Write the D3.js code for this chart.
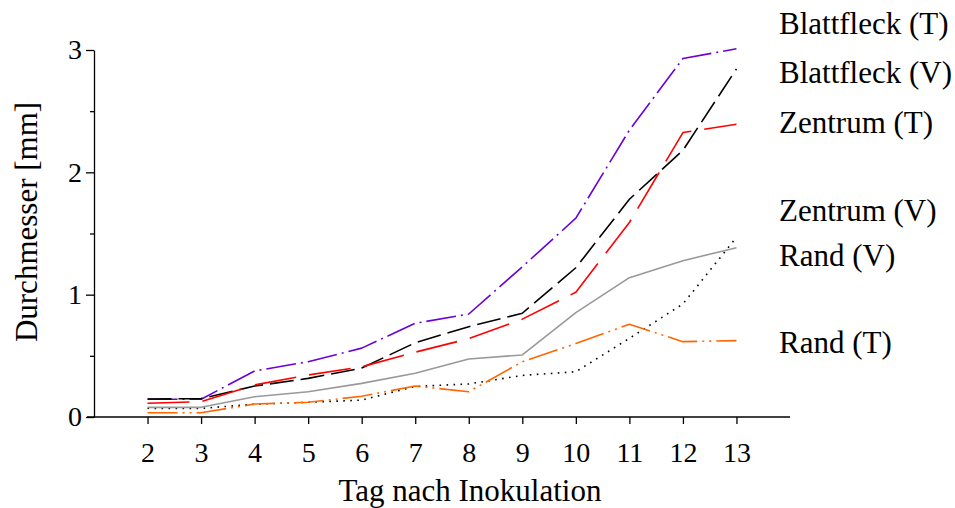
<!DOCTYPE html>
<html>
<head>
<meta charset="utf-8">
<script src="https://cdn.jsdelivr.net/npm/d3@7"></script>
<style>
  html, body { margin: 0; padding: 0; background: #fff; }
  svg { display: block; }
  text { font-family: "Liberation Serif", "Times New Roman", serif; fill: #000; }
</style>
</head>
<body>
<svg id="chart" width="955" height="508"></svg>
<script>
// Lesion diameter (mm) per day after inoculation
const days = [2, 3, 4, 5, 6, 7, 8, 9, 10, 11, 12, 13];
const blattfleckT = [0.145, 0.145, 0.376, 0.452, 0.563, 0.766, 0.842, 1.228, 1.625, 2.345, 2.93, 3.01];
const blattfleckV = [0.147, 0.15, 0.253, 0.316, 0.40, 0.607, 0.738, 0.848, 1.22, 1.78, 2.18, 2.845];
const zentrumT   = [0.112, 0.125, 0.262, 0.343, 0.41, 0.53, 0.64, 0.80, 1.02, 1.59, 2.325, 2.393];
const zentrumV   = [0.071, 0.07, 0.105, 0.12, 0.138, 0.25, 0.27, 0.34, 0.37, 0.643, 0.924, 1.469];
const randV      = [0.079, 0.079, 0.166, 0.207, 0.275, 0.357, 0.474, 0.507, 0.853, 1.139, 1.278, 1.384];
const randT      = [0.035, 0.035, 0.106, 0.12, 0.17, 0.253, 0.207, 0.452, 0.60, 0.758, 0.616, 0.624];

const seriesNames = ["Blattfleck (T)", "Blattfleck (V)", "Zentrum (T)", "Zentrum (V)", "Rand (V)", "Rand (T)"];
const seriesValues = [blattfleckT, blattfleckV, zentrumT, zentrumV, randV, randT];
const yTicksMajor = [0, 1, 2, 3];
const yTicksMinor = [0.5, 1.5, 2.5];
const xTitle = "Tag nach Inokulation";
const yTitle = "Durchmesser [mm]";

// line styling per series
const styles = [
  { color: "#6c00d6", dash: "30,5,2,5", width: 1.6 },
  { color: "#000000", dash: "24,7", width: 1.6 },
  { color: "#ff0000", dash: "42,13", width: 1.6 },
  { color: "#000000", dash: "1.6,5.4", width: 1.6 },
  { color: "#999999", dash: null, width: 1.6 },
  { color: "#ff6600", dash: "30,5,2,5,2,5", width: 1.6 }
];
// vertical baseline of each end label
const labelBaselines = [34, 83, 133, 221, 266, 353];

const svg = d3.select("#chart");

const x = d3.scaleLinear().domain([1, 14]).range([94, 790]);
const y = d3.scaleLinear().domain([0, 3]).range([417, 50]);

// x axis
const xAxis = svg.append("g")
  .attr("transform", `translate(0,${y(0)})`)
  .call(d3.axisBottom(x).tickValues(days).tickFormat(d3.format("d")).tickSize(7).tickSizeOuter(0));
xAxis.select(".domain").attr("stroke", "#000").attr("stroke-width", 1.3).attr("d", `M${x(1) - 7},0H${x(14)}`);
xAxis.selectAll(".tick line").attr("stroke", "#000").attr("stroke-width", 1.3);
xAxis.selectAll(".tick text")
  .attr("y", 45).attr("dy", null)
  .style("font-family", "'Liberation Serif', serif")
  .style("font-size", "28px").attr("fill", "#000");

// y axis: major ticks with labels, short minor ticks between them
const yAxis = svg.append("g")
  .attr("transform", `translate(${x(1)},0)`)
  .call(d3.axisLeft(y).tickValues(yTicksMajor).tickFormat(d3.format("d")).tickSize(8).tickSizeOuter(0).tickPadding(4));
yAxis.select(".domain").attr("stroke", "#000").attr("stroke-width", 1.3);
yAxis.selectAll(".tick line").attr("stroke", "#000").attr("stroke-width", 1.3);
yAxis.selectAll(".tick text")
  .style("font-family", "'Liberation Serif', serif")
  .style("font-size", "28px").attr("fill", "#000");

const yMinor = svg.append("g")
  .attr("transform", `translate(${x(1)},0)`)
  .call(d3.axisLeft(y).tickValues(yTicksMinor).tickFormat("").tickSize(4).tickSizeOuter(0));
yMinor.select(".domain").remove();
yMinor.selectAll(".tick line").attr("stroke", "#000").attr("stroke-width", 1.3);

// axis titles
svg.append("text")
  .attr("x", 470).attr("y", 501)
  .attr("text-anchor", "middle")
  .style("font-size", "31px")
  .text(xTitle);

svg.append("text")
  .attr("transform", `translate(37,222) rotate(-90)`)
  .attr("text-anchor", "middle")
  .style("font-size", "31px")
  .text(yTitle);

// series lines
const line = d3.line()
  .x((d, i) => x(days[i]))
  .y(d => y(d));

svg.append("g").selectAll("path")
  .data(seriesValues)
  .join("path")
  .attr("d", d => line(d))
  .attr("fill", "none")
  .attr("stroke", (d, i) => styles[i].color)
  .attr("stroke-width", (d, i) => styles[i].width)
  .attr("stroke-dasharray", (d, i) => styles[i].dash)
  .attr("stroke-linejoin", "round");

// end labels
svg.append("g").selectAll("text")
  .data(seriesNames)
  .join("text")
  .attr("x", 779)
  .attr("y", (d, i) => labelBaselines[i])
  .style("font-size", "31px")
  .text(d => d);
</script>
</body>
</html>
